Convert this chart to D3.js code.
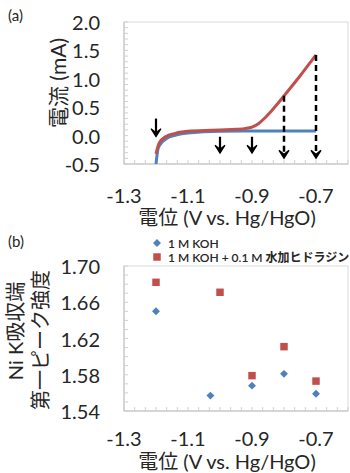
<!DOCTYPE html>
<html><head><meta charset="utf-8">
<script src="https://cdn.jsdelivr.net/npm/d3@7"></script>
<style>
body{margin:0;background:#fff;}
text{font-family:Lato,"Noto Sans CJK JP",sans-serif;fill:#262626;}
</style></head>
<body><svg id="c" width="350" height="473"></svg>
<script>
// ---- data ----
const potentialRed = [-1.2,-1.19,-1.17,-1.14,-1.09,-1.0,-0.95,-0.92,-0.9,-0.88,-0.86,-0.84,-0.82,-0.8,-0.75,-0.7];
const currentRed   = [-0.32,-0.13,-0.02,0.04,0.08,0.10,0.11,0.125,0.15,0.21,0.31,0.43,0.56,0.70,1.05,1.42];
const potentialBlue = [-1.2,-1.193,-1.18,-1.167,-1.14,-1.09,-1.0,-0.9,-0.8,-0.7];
const currentBlue   = [-0.5,-0.22,-0.11,-0.05,0.005,0.05,0.075,0.08,0.08,0.08];
const solidArrowX = [-1.2,-1.0,-0.9];
const solidArrowFrom = [0.30,-0.02,-0.02];
const solidArrowTo = [-0.02,-0.31,-0.31];
const dashArrowX = [-0.8,-0.7];
const dashArrowFrom = [0.70,1.42];
const dashArrowTo = [-0.40,-0.40];
const yTicksA = [-0.5,0.0,0.5,1.0,1.5,2.0];
const xTicks = [-1.3,-1.1,-0.9,-0.7];

const kohX = [-1.2,-1.03,-0.9,-0.8,-0.7];
const kohY = [1.650,1.557,1.568,1.581,1.559];
const hydX = [-1.2,-1.0,-0.9,-0.8,-0.7];
const hydY = [1.682,1.671,1.579,1.611,1.573];
const yTicksB = [1.54,1.58,1.62,1.66,1.70];
const legendLabels = ["1 M KOH","1 M KOH + 0.1 M 水加ヒドラジン"];

const RED="#c0504d", BLUE="#4f81bd", GRID="#bfbfbf";
const svg = d3.select("#c");

const L=124, R=348;
const x = d3.scaleLinear().domain([-1.3,-0.6]).range([L,R]);
const minorX = d3.range(0,22).map(i=>-1.3+i*0.1/3);

function frame(g, y, top, bottom, minorY){
  g.append("rect").attr("x",L).attr("y",top).attr("width",R-L).attr("height",bottom-top)
   .attr("fill","none").attr("stroke","#d9d9d9").attr("stroke-width",1);
  g.append("line").attr("x1",L).attr("x2",L).attr("y1",top).attr("y2",bottom).attr("stroke",GRID);
  g.append("line").attr("x1",L).attr("x2",R).attr("y1",bottom).attr("y2",bottom).attr("stroke",GRID);
  g.selectAll(".my").data(minorY).join("line").attr("x1",L).attr("x2",L+4)
   .attr("y1",d=>y(d)).attr("y2",d=>y(d)).attr("stroke","#d0d0d0");
  g.selectAll(".mx").data(minorX).join("line").attr("y1",bottom).attr("y2",bottom-4)
   .attr("x1",d=>x(d)).attr("x2",d=>x(d)).attr("stroke","#d0d0d0");
}

// ---- panel a ----
const aTop=22, aBot=164;
const ya = d3.scaleLinear().domain([-0.5,2.0]).range([aBot,aTop]);
const ga = svg.append("g");
frame(ga, ya, aTop, aBot, d3.range(-0.5,2.001,0.1));
ga.selectAll(".yl").data(yTicksA).join("text").attr("x",100).attr("y",d=>ya(d))
  .attr("text-anchor","end").attr("dominant-baseline","central").attr("font-size",20)
  .text(d=>d3.format(".1f")(d).replace("−","-"));
ga.selectAll(".xl").data(xTicks).join("text").attr("x",d=>x(d)).attr("y",195)
  .attr("text-anchor","middle").attr("dominant-baseline","central").attr("font-size",20)
  .text(d=>d3.format(".1f")(d).replace("−","-"));
ga.append("text").attr("x",227).attr("y",217).attr("text-anchor","middle")
  .attr("dominant-baseline","central").attr("font-size",20).text("電位 (V vs. Hg/HgO)");
ga.append("text").attr("transform","translate(57,83) rotate(-90)").attr("text-anchor","middle")
  .attr("dominant-baseline","central").attr("font-size",21).text("電流 (mA)");
svg.append("text").attr("x",8).attr("y",21).attr("font-size",15).text("(a)");

const clip = svg.append("clipPath").attr("id","ca").append("rect")
  .attr("x",L).attr("y",aTop).attr("width",R-L).attr("height",aBot-aTop);
const line = d3.line().x(d=>x(d[0])).y(d=>ya(d[1])).curve(d3.curveMonotoneX);
ga.append("path").datum(potentialBlue.map((p,i)=>[p,currentBlue[i]])).attr("d",line)
  .attr("fill","none").attr("stroke",BLUE).attr("stroke-width",3).attr("clip-path","url(#ca)");
ga.append("path").datum(potentialRed.map((p,i)=>[p,currentRed[i]])).attr("d",line)
  .attr("fill","none").attr("stroke",RED).attr("stroke-width",3).attr("clip-path","url(#ca)");

function arrowHead(g, px, py){
  g.append("path").attr("d",`M${px-5},${py-8} L${px},${py-4} L${px+5},${py-8} L${px},${py} Z`)
   .attr("fill","#000").attr("stroke","#000").attr("stroke-width",1.2).attr("stroke-linejoin","miter");
}
solidArrowX.forEach((v,i)=>{
  ga.append("line").attr("x1",x(v)).attr("x2",x(v)).attr("y1",ya(solidArrowFrom[i])).attr("y2",ya(solidArrowTo[i])-3)
    .attr("stroke","#000").attr("stroke-width",2.2);
  arrowHead(ga, x(v), ya(solidArrowTo[i]));
});
dashArrowX.forEach((v,i)=>{
  ga.append("line").attr("x1",x(v)).attr("x2",x(v)).attr("y1",ya(dashArrowFrom[i])).attr("y2",ya(dashArrowTo[i])-3)
    .attr("stroke","#000").attr("stroke-width",2.5).attr("stroke-dasharray","6,4");
  arrowHead(ga, x(v), ya(dashArrowTo[i]));
});

// ---- panel b ----
const bTop=266, bBot=411;
const yb = d3.scaleLinear().domain([1.54,1.70]).range([bBot,bTop]);
const gb = svg.append("g");
frame(gb, yb, bTop, bBot, d3.range(1.54,1.7001,0.01));
gb.selectAll(".yl").data(yTicksB).join("text").attr("x",100).attr("y",d=>yb(d))
  .attr("text-anchor","end").attr("dominant-baseline","central").attr("font-size",20)
  .text(d=>d3.format(".2f")(d));
gb.selectAll(".xl").data(xTicks).join("text").attr("x",d=>x(d)).attr("y",438)
  .attr("text-anchor","middle").attr("dominant-baseline","central").attr("font-size",20)
  .text(d=>d3.format(".1f")(d).replace("−","-"));
gb.append("text").attr("x",227).attr("y",461).attr("text-anchor","middle")
  .attr("dominant-baseline","central").attr("font-size",20).text("電位 (V vs. Hg/HgO)");
gb.append("text").attr("transform","translate(15,331) rotate(-90)").attr("text-anchor","middle")
  .attr("dominant-baseline","central").attr("font-size",20).text("Ni K吸収端");
gb.append("text").attr("transform","translate(40,340) rotate(-90)").attr("text-anchor","middle")
  .attr("dominant-baseline","central").attr("font-size",20).text("第一ピーク強度");
svg.append("text").attr("x",8).attr("y",247).attr("font-size",15).text("(b)");

const diamond = d3.symbol().type(d3.symbolDiamond2).size(40);
const square = d3.symbol().type(d3.symbolSquare).size(56);
gb.selectAll(".k").data(kohX.map((v,i)=>[v,kohY[i]])).join("path")
  .attr("transform",d=>`translate(${x(d[0])},${yb(d[1])})`).attr("d",diamond).attr("fill",BLUE);
gb.selectAll(".h").data(hydX.map((v,i)=>[v,hydY[i]])).join("path")
  .attr("transform",d=>`translate(${x(d[0])},${yb(d[1])})`).attr("d",square).attr("fill",RED);

// legend
const lg = svg.append("g");
lg.append("path").attr("transform","translate(157,243)").attr("d",diamond).attr("fill",BLUE);
lg.append("path").attr("transform","translate(157,257)").attr("d",square).attr("fill",RED);
lg.selectAll("text").data(legendLabels).join("text").attr("x",168).attr("y",(d,i)=>243+i*14)
  .attr("dominant-baseline","central").attr("font-size",12).attr("font-weight",600).text(d=>d);
</script></body></html>
